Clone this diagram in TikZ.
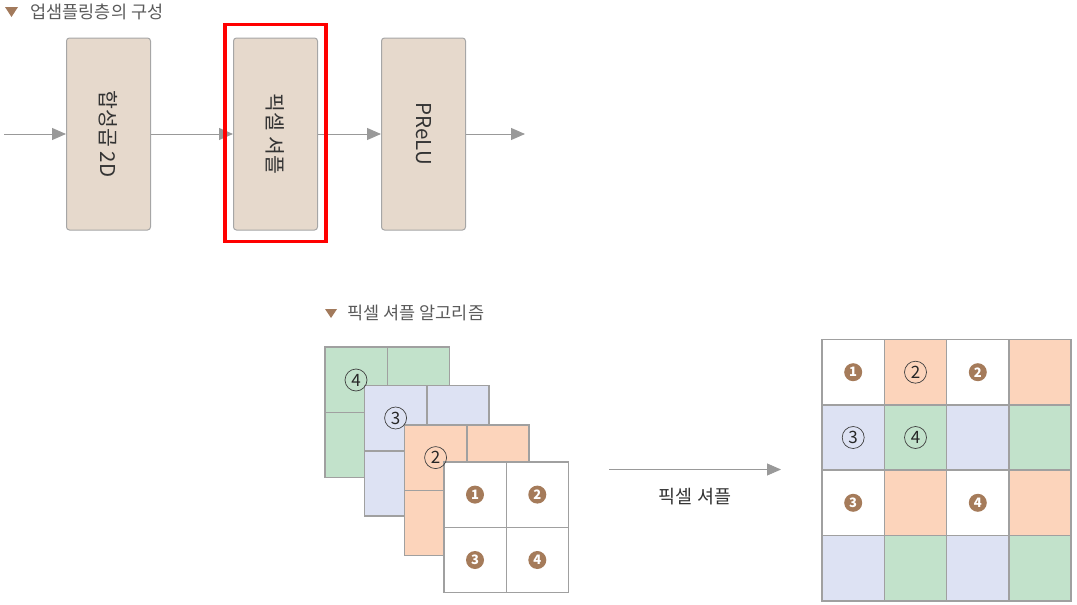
\documentclass[tikz,border=0pt]{standalone}
\usepackage{fontspec}
\usepackage{graphicx}
\setmainfont{Noto Sans CJK KR}
\usetikzlibrary{positioning,arrows.meta}
\definecolor{boxfill}{HTML}{E6D9CC}
\definecolor{boxline}{HTML}{A6A6A6}
\definecolor{arrowgray}{HTML}{999999}
\definecolor{gridgray}{HTML}{A0A0A0}
\definecolor{titlegray}{HTML}{5A5A5A}
\definecolor{tribrown}{HTML}{A27A5C}
\definecolor{numbrown}{HTML}{A57B5A}
\definecolor{cgreen}{HTML}{C2E2CB}
\definecolor{cblue}{HTML}{DDE2F3}
\definecolor{corange}{HTML}{FCD4BB}
\begin{document}
\begin{tikzpicture}[x=1pt,y=-1pt,
   every node/.style={font=\fontsize{17.5}{20}\selectfont,text=titlegray},
   stage/.style={draw=boxline,line width=1pt,fill=boxfill,rounded corners=3pt,
     minimum width=84pt,minimum height=192pt,inner sep=0pt,
     text=black!80,font=\fontsize{20.5}{22}\selectfont},
   flow/.style={draw=arrowgray,line width=1pt,-{Triangle[length=14pt,width=12pt]}},
   cell/.style={draw=gridgray,line width=1.6pt},
   ring/.style={circle,draw=black!75,line width=0.7pt,minimum size=22pt,inner sep=0pt,
     text=black!85,font=\fontsize{17}{17}\selectfont},
   numdot/.style={circle,fill=numbrown,minimum size=18pt,inner sep=0pt,
     text=white,font=\bfseries\fontsize{13}{13}\selectfont}]
   \useasboundingbox (0,0) rectangle (1077,605);
   % upsampling layer
   \fill [tribrown] (5,7) -- (18,7) -- (11.5,17) -- cycle;
   \node [anchor=west] (title) at (27,12) {업샘플링층의 구성};
   \node [stage] (conv) at (108.5,134) {\rotatebox{-90}{합성곱 2D}};
   \node [stage,right=82pt of conv] (shuffle) {\rotatebox{-90}{픽셀 셔플}};
   \node [stage,right=63pt of shuffle] (prelu) {\rotatebox{-90}{PReLU}};
   \coordinate (src) at (4,134);
   \coordinate (sink) at (525,134);
   \draw [flow] (src) -- (conv);
   \draw [flow] (conv) -- (shuffle);
   \draw [flow] (shuffle) -- (prelu);
   \draw [flow] (prelu) -- (sink);
   \draw [red,line width=3.3pt] ([shift={(-8,-13)}]shuffle.north west) rectangle ([shift={(8,11)}]shuffle.south east);
   % pixel shuffle
   \fill [tribrown] (325,309) -- (337,309) -- (331,318) -- cycle;
   \node [anchor=west] (algo) at (344,313) {픽셀 셔플 알고리즘};
   \foreach \x/\y/\c in {325/347/cgreen,364.5/385.5/cblue,404.5/425/corange,444/462/white}
     \draw [cell,fill=\c] (\x,\y) rectangle ++(124.6,130.6)
       (\x+62.3,\y) -- ++(0,130.6) (\x,\y+65.3) -- ++(124.6,0);
   \node [ring] (g4) at (356,380) {4};
   \node [ring] (b3) at (395.6,418) {3};
   \node [ring] (r2) at (435.6,457.6) {2};
   \foreach \i/\x/\y in {1/475/494.6,2/537.3/494.6,3/475/560,4/537.3/560}
     \node [numdot] (w\i) at (\x,\y) {\i};
   \coordinate (from) at (609,469.5);
   \coordinate (to) at (781,469.5);
   \draw [flow] (from) -- (to);
   \node [text=black!80,font=\fontsize{18.5}{20}\selectfont] (shuf) at (695,497) {픽셀 셔플};
   \foreach \row/\ca/\cb in {0/white/corange,1/cblue/cgreen,2/white/corange,3/cblue/cgreen}
     \foreach \col/\cc in {0/\ca,1/\cb,2/\ca,3/\cb}
       \draw [cell,fill=\cc] ({822+\col*62.3},{339.5+\row*65.3}) rectangle ++(62.3,65.3);
   \node [numdot] (o1) at (853.2,372.2) {1};
   \node [ring] (o2) at (915.5,372.2) {2};
   \node [numdot] (p2) at (977.8,372.2) {2};
   \node [ring] (o3) at (853.2,437.5) {3};
   \node [ring] (o4) at (915.5,437.5) {4};
   \node [numdot] (p3) at (853.2,502.8) {3};
   \node [numdot] (p4) at (977.8,502.8) {4};
\end{tikzpicture}
\end{document}
